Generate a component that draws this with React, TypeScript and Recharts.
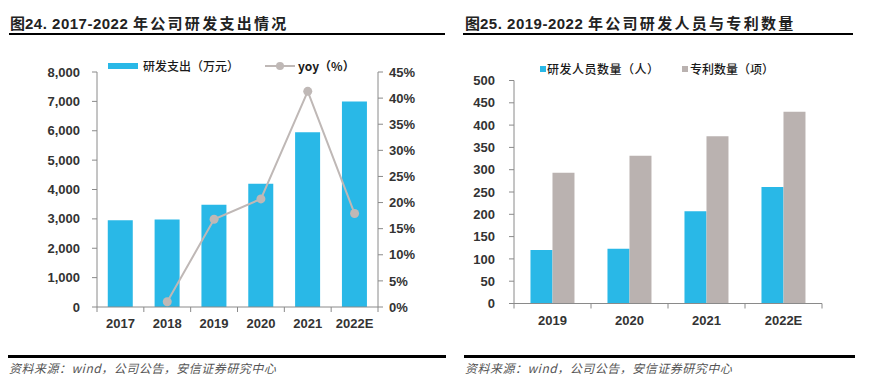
import React from 'react';
import { ComposedChart, BarChart, Bar, Line, XAxis, YAxis } from 'recharts';

const years1 = ['2017', '2018', '2019', '2020', '2021', '2022E'];
const rdSpend = [2950, 2980, 3480, 4200, 5950, 7000];
const yoy = [null, 1.0, 16.8, 20.7, 41.3, 17.9];
const leftTicks = [0, 1000, 2000, 3000, 4000, 5000, 6000, 7000, 8000];
const rightTicks = [0, 5, 10, 15, 20, 25, 30, 35, 40, 45];

const years2 = ['2019', '2020', '2021', '2022E'];
const staff = [120, 123, 207, 261];
const patents = [293, 331, 375, 430];
const staffTicks = [0, 50, 100, 150, 200, 250, 300, 350, 400, 450, 500];

const data1 = years1.map((y, i) => ({ year: y, spend: rdSpend[i], yoy: yoy[i] }));
const data2 = years2.map((y, i) => ({ year: y, staff: staff[i], patents: patents[i] }));

const BLUE = '#29B8E7';
const GRAY = '#BAB2B0';
const LINE = '#BFB8B6';
const AXIS = '#8a8a8a';
const TXT = '#333333';
const NUMFONT = "'Liberation Sans', Arial, 'Noto Sans CJK SC', sans-serif";
const CJK = "'Noto Sans CJK SC', 'Liberation Sans', sans-serif";

const tickStyle = { fill: TXT, fontSize: 13, fontWeight: 700, fontFamily: NUMFONT };

function BoundaryTick(props: any) {
  const { x, y, payload, index, n, gap } = props;
  const half = payload && typeof payload.offset === 'number' ? payload.offset : 0;
  const axisY = y - gap;
  return (
    <g>
      <line x1={x - half} x2={x - half} y1={axisY} y2={axisY + 5} stroke={AXIS} strokeWidth={1} />
      {index === n - 1 && (
        <line x1={x + half} x2={x + half} y1={axisY} y2={axisY + 5} stroke={AXIS} strokeWidth={1} />
      )}
      <text x={x} y={y} dy="0.71em" textAnchor="middle" {...tickStyle}>
        {payload.value}
      </text>
    </g>
  );
}

const abs = (s: React.CSSProperties): React.CSSProperties => ({ position: 'absolute', ...s });

const legendText: React.CSSProperties = { fontSize: 12, color: '#1a1a1a', fontFamily: CJK, lineHeight: '16px', whiteSpace: 'nowrap', fontWeight: 500 };

export default function App() {
  return (
    <div style={{ position: 'absolute', left: 0, top: 0, width: 869, height: 386, background: '#fff', overflow: 'hidden' }}>
      {/* Titles */}
      <div style={abs({ left: 10, top: 13, fontSize: 15, fontWeight: 700, color: '#222', fontFamily: NUMFONT, whiteSpace: 'nowrap', lineHeight: '20px' })}>
        <span style={{ fontFamily: CJK }}>图</span>
        <span style={{ letterSpacing: 0.5 }}>24. 2017-2022 </span>
        <span style={{ fontFamily: CJK, letterSpacing: 2.3 }}>年公司研发支出情况</span>
      </div>
      <div style={abs({ left: 9, top: 33, width: 436, height: 2, background: '#000' })} />
      <div style={abs({ left: 465, top: 13, fontSize: 15, fontWeight: 700, color: '#222', fontFamily: NUMFONT, whiteSpace: 'nowrap', lineHeight: '20px' })}>
        <span style={{ fontFamily: CJK }}>图</span>
        <span style={{ letterSpacing: 0.5 }}>25. 2019-2022 </span>
        <span style={{ fontFamily: CJK, letterSpacing: 2.3 }}>年公司研发人员与专利数量</span>
      </div>
      <div style={abs({ left: 463, top: 33, width: 390, height: 2, background: '#000' })} />

      {/* Left chart */}
      <div style={abs({ left: 0, top: 0 })}>
        <ComposedChart width={440} height={340} data={data1} margin={{ top: 72, right: 0, bottom: 3, left: 0 }} barCategoryGap="23%">
          <XAxis
            dataKey="year"
            height={30}
            tickSize={5}
            tickMargin={6.5}
            tickLine={false}
            axisLine={{ stroke: AXIS }}
            interval={0}
            tick={<BoundaryTick n={years1.length} gap={11.5} />}
          />
          <YAxis
            yAxisId="left"
            width={97}
            domain={[0, 8000]}
            ticks={leftTicks}
            interval={0}
            tickSize={5}
            tickMargin={12}
            axisLine={{ stroke: AXIS }}
            tickLine={{ stroke: AXIS }}
            tick={tickStyle}
            tickFormatter={(v: number) => v.toLocaleString('en-US')}
          />
          <YAxis
            yAxisId="right"
            orientation="right"
            width={62}
            domain={[0, 45]}
            ticks={rightTicks}
            interval={0}
            tickSize={5}
            tickMargin={6}
            axisLine={{ stroke: AXIS }}
            tickLine={{ stroke: AXIS }}
            tick={tickStyle}
            tickFormatter={(v: number) => `${v}%`}
          />
          <Bar yAxisId="left" dataKey="spend" fill={BLUE} isAnimationActive={false} />
          <Line
            yAxisId="right"
            dataKey="yoy"
            stroke={LINE}
            strokeWidth={2}
            dot={{ r: 4.5, fill: LINE, stroke: LINE, strokeWidth: 0 }}
            isAnimationActive={false}
          />
        </ComposedChart>
      </div>
      {/* Left legend */}
      <div style={abs({ left: 108, top: 63, width: 30, height: 6, background: BLUE })} />
      <div style={abs({ left: 143, top: 58, ...legendText })}>研发支出（万元）</div>
      <svg style={abs({ left: 265, top: 60 })} width={32} height={12}>
        <line x1={0} x2={30} y1={6} y2={6} stroke={LINE} strokeWidth={2} />
        <circle cx={15} cy={6} r={4} fill={LINE} />
      </svg>
      <div style={abs({ left: 298, top: 58, ...legendText, fontWeight: 700 })}>yoy（%）</div>

      {/* Right chart */}
      <div style={abs({ left: 440, top: 0 })}>
        <BarChart width={429} height={340} data={data2} margin={{ top: 80.5, right: 47, bottom: 6.5, left: 0 }} barCategoryGap="21.4%" barGap={0}>
          <XAxis
            dataKey="year"
            height={30}
            tickSize={5}
            tickMargin={7}
            tickLine={false}
            axisLine={{ stroke: AXIS }}
            interval={0}
            tick={<BoundaryTick n={years2.length} gap={12} />}
          />
          <YAxis
            width={74}
            domain={[0, 500]}
            ticks={staffTicks}
            interval={0}
            tickSize={5}
            tickMargin={14}
            axisLine={{ stroke: AXIS }}
            tickLine={{ stroke: AXIS }}
            tick={tickStyle}
          />
          <Bar dataKey="staff" fill={BLUE} isAnimationActive={false} />
          <Bar dataKey="patents" fill={GRAY} isAnimationActive={false} />
        </BarChart>
      </div>
      {/* Right legend */}
      <div style={abs({ left: 540, top: 66, width: 6, height: 6, background: BLUE })} />
      <div style={abs({ left: 547, top: 61, ...legendText, letterSpacing: 0.5 })}>研发人员数量（人）</div>
      <div style={abs({ left: 682, top: 66, width: 6, height: 6, background: GRAY })} />
      <div style={abs({ left: 690, top: 61, ...legendText })}>专利数量（项）</div>

      {/* Bottom rules and sources */}
      <div style={abs({ left: 8, top: 355, width: 438, height: 3, background: '#000' })} />
      <div style={abs({ left: 464, top: 355, width: 391, height: 3, background: '#000' })} />
      <div style={abs({ left: 9, top: 360, fontSize: 12, color: '#555', fontFamily: CJK, fontStyle: 'italic', lineHeight: '16px', whiteSpace: 'nowrap', letterSpacing: 0.5 })}>资料来源：wind，公司公告，安信证券研究中心</div>
      <div style={abs({ left: 465, top: 360, fontSize: 12, color: '#555', fontFamily: CJK, fontStyle: 'italic', lineHeight: '16px', whiteSpace: 'nowrap', letterSpacing: 0.5 })}>资料来源：wind，公司公告，安信证券研究中心</div>
    </div>
  );
}
